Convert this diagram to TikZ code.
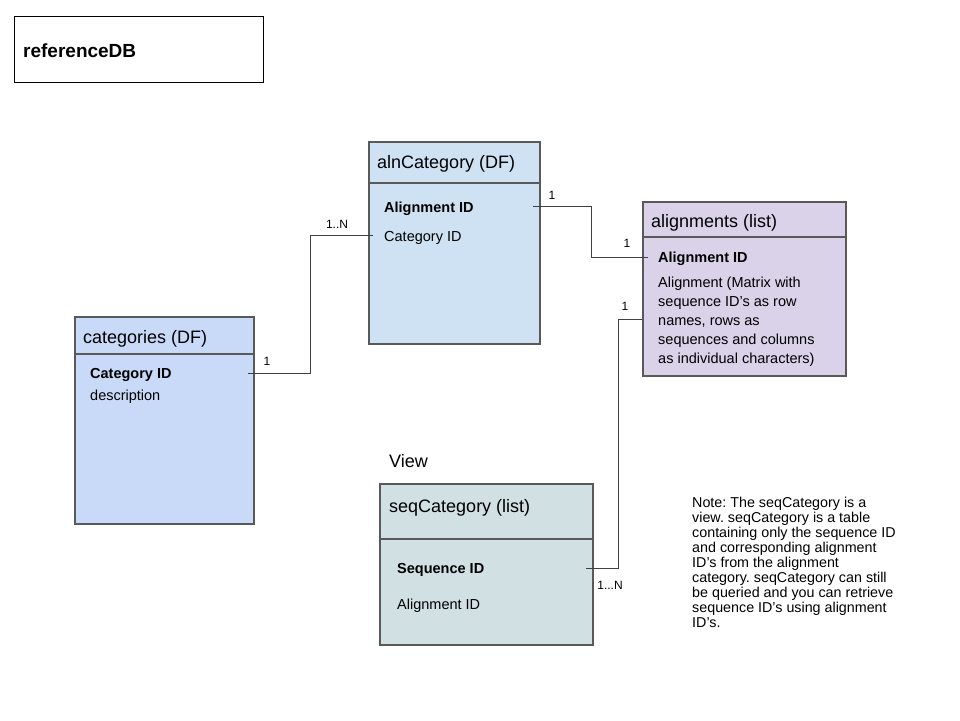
\documentclass[tikz,border=0pt]{standalone}
\usepackage{fontspec}
\setmainfont{Liberation Sans}
\frenchspacing
\definecolor{bordergray}{HTML}{595959}
\definecolor{alnblue}{HTML}{CFE2F3}
\definecolor{catblue}{HTML}{C9DAF8}
\definecolor{alipurple}{HTML}{D9D2E9}
\definecolor{seqteal}{HTML}{D0E0E3}
\definecolor{linegray}{HTML}{404040}
\begin{document}
\begin{tikzpicture}[x=1pt,y=-1pt,
  tbl/.style={draw=bordergray, line width=1.6pt, rectangle, anchor=north west, inner sep=0pt},
  divider/.style={draw=bordergray, line width=1.6pt},
  ttl/.style={anchor=base west, inner sep=0pt, font=\fontsize{18}{21}\selectfont},
  fld/.style={anchor=base west, inner sep=0pt, font=\fontsize{14.5}{19}\selectfont},
  keyfld/.style={anchor=base west, inner sep=0pt, font=\fontsize{14.5}{19}\selectfont\bfseries},
  lbl/.style={anchor=center, inner sep=0pt, font=\fontsize{12}{14}\selectfont},
  conn/.style={draw=linegray, line width=0.8pt}]
\useasboundingbox (0,0) rectangle (960,720);
\fill[white] (0,0) rectangle (960,720);

% referenceDB
\node[draw=black, line width=0.9pt, rectangle, anchor=north west, inner sep=0pt,
      minimum width=249pt, minimum height=66pt] (refbox) at (14,16) {};
\node[anchor=base west, inner sep=0pt, font=\fontsize{19}{22}\selectfont\bfseries] (reftxt) at (23,57) {referenceDB};

% alnCategory
\node[tbl, fill=alnblue, minimum width=171pt, minimum height=202pt] (aln) at (368,141) {};
\draw[divider] ([yshift=-42pt]aln.north west) -- ([yshift=-42pt]aln.north east);
\node[ttl] (alnttl) at (377,168) {alnCategory (DF)};
\node[keyfld] (alnkey) at (384,212.5) {Alignment ID};
\node[fld] (alncat) at (384,241) {Category ID};

% alignments
\node[tbl, fill=alipurple, minimum width=203pt, minimum height=174pt] (ali) at (642,201) {};
\draw[divider] ([yshift=-36pt]ali.north west) -- ([yshift=-36pt]ali.north east);
\node[ttl] (alittl) at (651,227) {alignments (list)};
\node[keyfld] (alikey) at (658,262) {Alignment ID};
\node[fld, align=left] (alidesc) at (658,363.5) {Alignment (Matrix with\\sequence ID's as row\\names, rows as\\sequences and columns\\as individual characters)};

% categories
\node[tbl, fill=catblue, minimum width=179pt, minimum height=207pt] (cat) at (74,316) {};
\draw[divider] ([yshift=-38pt]cat.north west) -- ([yshift=-38pt]cat.north east);
\node[ttl] (catttl) at (83,343) {categories (DF)};
\node[keyfld] (catkey) at (90,378) {Category ID};
\node[fld] (catdesc) at (90,400) {description};

% seqCategory
\node[anchor=base west, inner sep=0pt, font=\fontsize{18}{21}\selectfont] (view) at (389,467) {View};
\node[tbl, fill=seqteal, minimum width=213pt, minimum height=161pt] (seq) at (379,483) {};
\draw[divider] ([yshift=-56pt]seq.north west) -- ([yshift=-56pt]seq.north east);
\node[ttl] (seqttl) at (389,512) {seqCategory (list)};
\node[keyfld] (seqkey) at (397,573) {Sequence ID};
\node[fld] (seqaln) at (397,609) {Alignment ID};

% note
\node[anchor=base west, inner sep=0pt, align=left, font=\fontsize{14.3}{15}\selectfont] (note) at (692,627)
 {Note: The seqCategory is a\\view. seqCategory is a table\\containing only the sequence ID\\and corresponding alignment\\ID's from the alignment\\category. seqCategory can still\\be queried and you can retrieve\\sequence ID's using alignment\\ID's.};

% connectors
\coordinate (c1a) at (248,373);
\coordinate (c1b) at (373,235);
\draw[conn] (c1a) -- ++(62,0) |- (c1b);
\node[lbl] (l1a) at (267,361) {1};
\node[lbl] (l1b) at (337,224) {1..N};

\coordinate (c2a) at (533,206);
\coordinate (c2b) at (648,257);
\draw[conn] (c2a) -- ++(58,0) |- (c2b);
\node[lbl] (l2a) at (552,195) {1};
\node[lbl] (l2b) at (627,243) {1};

\coordinate (c3a) at (642,319);
\coordinate (c3b) at (586,568);
\draw[conn] (c3a) -- ++(-24,0) |- (c3b);
\node[lbl] (l3a) at (625,306) {1};
\node[lbl] (l3b) at (610,585) {1...N};
\end{tikzpicture}
\end{document}
